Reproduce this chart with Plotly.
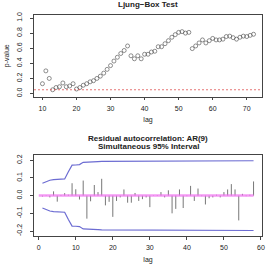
import plotly.graph_objects as go

# ---- data: Ljung-Box p-values ----
lb_lags = list(range(10, 73))
lb_pvalues = [0.13, 0.30, 0.20, 0.05, 0.08, 0.09, 0.14, 0.09, 0.10, 0.13,
              0.06, 0.08, 0.11, 0.13, 0.155, 0.17, 0.20, 0.23, 0.27, 0.32,
              0.37, 0.43, 0.48, 0.53, 0.57, 0.63, 0.50, 0.46, 0.50, 0.46,
              0.52, 0.52, 0.55, 0.56, 0.62, 0.62, 0.66, 0.70, 0.745, 0.78,
              0.81, 0.82, 0.80, 0.81, 0.595, 0.63, 0.67, 0.71, 0.67, 0.70,
              0.73, 0.71, 0.71, 0.72, 0.755, 0.76, 0.74, 0.72, 0.745, 0.76,
              0.755, 0.77, 0.785]
lb_threshold = 0.05

# ---- data: residual autocorrelation ----
acf_lags = list(range(1, 59))
acf_values = [-0.005, 0.002, -0.01, 0.024, -0.034, 0.003, 0.014, 0.005, 0.07, 0.036,
              -0.022, 0.085, -0.13, -0.032, 0.06, 0.02, 0.095, -0.055, -0.035, -0.12,
              -0.03, -0.01, 0.035, -0.04, -0.04, 0.015, -0.03, -0.02, -0.01, -0.065,
              0.002, 0.003, 0.02, -0.01, 0.03, -0.10, -0.075, 0.035, -0.07, -0.003,
              0.055, -0.03, 0.04, -0.003, -0.05, -0.015, -0.01, 0.005, -0.01, 0.02,
              0.035, 0.065, 0.035, -0.14, 0.01, -0.003, 0.005, 0.08]
band_upper = [0.070, 0.080, 0.087, 0.090, 0.092, 0.092, 0.094, 0.135, 0.172, 0.173,
              0.175, 0.188, 0.190, 0.191, 0.192, 0.192, 0.193, 0.193, 0.194, 0.194,
              0.194, 0.195, 0.195, 0.195, 0.195, 0.195, 0.196, 0.196, 0.196, 0.196,
              0.196, 0.196, 0.196, 0.196, 0.196, 0.196, 0.197, 0.197, 0.197, 0.197,
              0.197, 0.197, 0.197, 0.197, 0.197, 0.197, 0.197, 0.197, 0.197, 0.197,
              0.197, 0.197, 0.197, 0.197, 0.197, 0.197, 0.197, 0.197]

top_xticks = [10, 20, 30, 40, 50, 60, 70]
top_yticks = [0.0, 0.2, 0.4, 0.6, 0.8, 1.0]
bot_xticks = [0, 10, 20, 30, 40, 50, 60]
bot_yticks = [-0.2, -0.1, 0.0, 0.1, 0.2]

FONT = "Liberation Sans, Arial, sans-serif"
TXT = "#222222"

fig = go.Figure()

# top panel
fig.add_trace(go.Scatter(x=lb_lags, y=lb_pvalues, mode="markers",
                         marker=dict(symbol="circle-open", size=4, color="#444444",
                                     line=dict(width=0.6, color="#444444")),
                         xaxis="x", yaxis="y", showlegend=False, hoverinfo="skip"))
fig.add_shape(type="line", xref="x domain", yref="y", x0=0, x1=1,
              y0=lb_threshold, y1=lb_threshold,
              line=dict(color="#e05050", width=0.8, dash="2px,2px"))

# bottom panel: bars
bx, by = [], []
for k, v in zip(acf_lags, acf_values):
    bx += [k, k, None]
    by += [0, v, None]
fig.add_trace(go.Scatter(x=bx, y=by, mode="lines", line=dict(color="#777777", width=1),
                         xaxis="x2", yaxis="y2", showlegend=False, hoverinfo="skip"))
# zero line
fig.add_trace(go.Scatter(x=[0, acf_lags[-1]], y=[0, 0], mode="lines",
                         line=dict(color="rgba(240,110,240,0.7)", width=2.5),
                         xaxis="x2", yaxis="y2", showlegend=False, hoverinfo="skip"))
# bands
fig.add_trace(go.Scatter(x=acf_lags, y=band_upper, mode="lines",
                         line=dict(color="#6c6cd2", width=1.2),
                         xaxis="x2", yaxis="y2", showlegend=False, hoverinfo="skip"))
fig.add_trace(go.Scatter(x=acf_lags, y=[-u for u in band_upper], mode="lines",
                         line=dict(color="#6c6cd2", width=1.2),
                         xaxis="x2", yaxis="y2", showlegend=False, hoverinfo="skip"))

axis_common = dict(showline=True, mirror=True, linecolor="#444444", linewidth=0.8,
                   ticks="outside", ticklen=3, tickwidth=0.8, tickcolor="#444444",
                   showgrid=False, zeroline=False,
                   tickfont=dict(family=FONT, size=7, color=TXT))

fig.update_layout(
    width=269, height=266,
    margin=dict(l=34, r=4, t=15, b=26),
    plot_bgcolor="white", paper_bgcolor="white",
    font=dict(family=FONT, size=7, color=TXT),
    xaxis=dict(domain=[0, 1], range=[7.52, 74.48], tickvals=top_xticks,
               anchor="y", ticklabelstandoff=2,
               title=dict(text="lag", font=dict(size=7), standoff=6),
               **axis_common),
    yaxis=dict(domain=[0.631, 1], range=[-0.04, 1.04], tickvals=top_yticks,
               ticktext=[f"{v:.1f}" for v in top_yticks], tickangle=-90,
               anchor="x", ticklabelstandoff=5,
               title=dict(text="p-value", font=dict(size=7), standoff=5),
               **axis_common),
    xaxis2=dict(domain=[0, 1], range=[-1.28, 60.28], tickvals=bot_xticks,
                anchor="y2", ticklabelstandoff=2,
                title=dict(text="lag", font=dict(size=7), standoff=6),
                **axis_common),
    yaxis2=dict(domain=[0, 0.367], range=[-0.228, 0.23], tickvals=bot_yticks,
                ticktext=[f"{v:.1f}" for v in bot_yticks], tickangle=-90,
                anchor="x2", ticklabelstandoff=5, **axis_common),
)
# position titles by pixel using paper coords
H = 266 - 15 - 26
def py(pix):
    return 1 - (pix - 15) / H
fig.add_annotation(text="<b>Ljung\u2212Box Test</b>", x=0.5, y=py(4),
                   xref="paper", yref="paper", showarrow=False, yanchor="middle",
                   font=dict(family=FONT, size=8, color=TXT))
fig.add_annotation(text="<b>Residual autocorrelation: AR(9)</b>", x=0.5, y=py(141),
                   xref="paper", yref="paper", showarrow=False, yanchor="middle",
                   font=dict(family=FONT, size=8, color=TXT))
fig.add_annotation(text="<b>Simultaneous 95% Interval</b>", x=0.5, y=py(149),
                   xref="paper", yref="paper", showarrow=False, yanchor="middle",
                   font=dict(family=FONT, size=8, color=TXT))

fig.write_html("out.html")
